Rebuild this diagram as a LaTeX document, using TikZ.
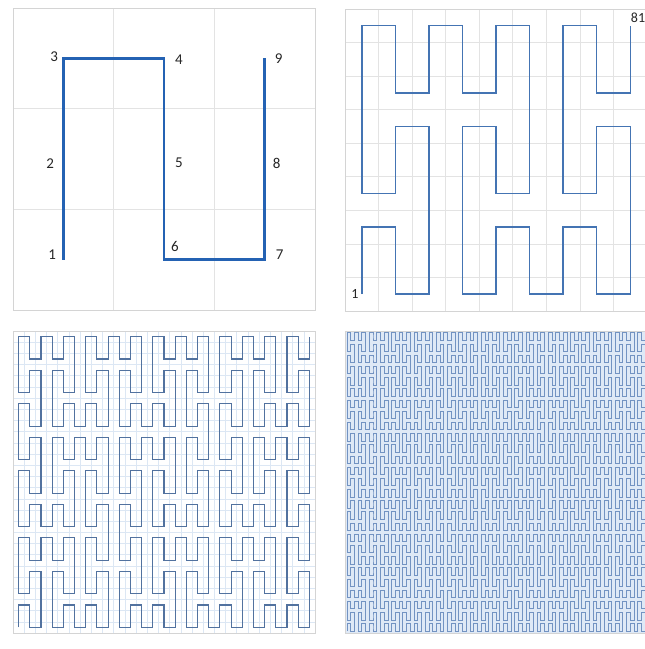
\documentclass[tikz,border=0pt]{standalone}
\usepackage{fontspec}
\setmainfont{Carlito}
\definecolor{frame}{HTML}{D4D4D4}
\definecolor{gridc}{HTML}{E3E3E3}
\definecolor{gridb}{HTML}{DCE7F4}
\definecolor{curve1}{HTML}{2462B3}
\definecolor{curve2}{HTML}{4474B3}
\definecolor{curve3}{HTML}{52729F}
\definecolor{curve4}{HTML}{7393C2}
\definecolor{paleb}{HTML}{DFE9F6}
\usetikzlibrary{calc,positioning}

% unit moves of the curve
\def\mvU{-- ++(0,1)}
\def\mvD{-- ++(0,-1)}
\def\mvR{-- ++(1,0)}
\def\mvL{-- ++(-1,0)}
% four mirror images: A plain, B mirrored in x, C mirrored in y, D both
\def\pA{}\def\pB{}\def\pC{}\def\pD{}
\def\peanostep{%
  \edef\nA{\pA\mvU\pB\mvU\pA\mvR\pC\mvD\pD\mvD\pC\mvR\pA\mvU\pB\mvU\pA}%
  \edef\nB{\pB\mvU\pA\mvU\pB\mvL\pD\mvD\pC\mvD\pD\mvL\pB\mvU\pA\mvU\pB}%
  \edef\nC{\pC\mvD\pD\mvD\pC\mvR\pA\mvU\pB\mvU\pA\mvR\pC\mvD\pD\mvD\pC}%
  \edef\nD{\pD\mvD\pC\mvD\pD\mvL\pB\mvU\pA\mvU\pB\mvL\pD\mvD\pC\mvD\pD}%
  \let\pA\nA\let\pB\nB\let\pC\nC\let\pD\nD}
\peanostep\let\peanoI\pA
\peanostep\let\peanoII\pA
\peanostep\let\peanoIII\pA
\peanostep\let\peanoIV\pA

\begin{document}
\begin{tikzpicture}[x=1pt, y=1pt,
  panel/.style={draw=frame, line width=0.9pt, fill=white},
  gridline/.style={draw=gridc, line width=0.7pt},
  fine/.style={draw=gridb, line width=0.5pt},
  num/.style={font=\fontsize{15}{18}\selectfont, text=black!85, inner sep=0pt},
  path1/.style={draw=curve1, line width=2.6pt},
  path2/.style={draw=curve2, line width=1.5pt},
  path3/.style={draw=curve3, line width=1.1pt},
  path4/.style={draw=curve4, line width=0.7pt},
]
\useasboundingbox[fill=white] (0,0) rectangle (645,649);

% order 1
\draw[panel] (13,339) rectangle (315,641);
\draw[gridline, shift={(13,339)}] (0,0) grid[step=100.667] (302,302);
\draw[frame, line width=0.9pt] (13,339) rectangle (315,641);
\coordinate (p1) at (63.3,389.3);
\coordinate (p2) at (63.3,490);
\coordinate (p3) at (63.3,590.7);
\coordinate (p4) at (164,590.7);
\coordinate (p5) at (164,490);
\coordinate (p6) at (164,389.3);
\coordinate (p7) at (264.7,389.3);
\coordinate (p8) at (264.7,490);
\coordinate (p9) at (264.7,590.7);
\draw[path1] (p1) -- (p3) -- (p4) -- (p6) -- (p7) -- (p9);
\node[num] (n1) at ($(p1)+(-11,5)$) {1};
\node[num] (n2) at ($(p2)+(-13,-5)$) {2};
\node[num] (n3) at ($(p3)+(-9,2)$) {3};
\node[num] (n4) at ($(p4)+(15,-1)$) {4};
\node[num] (n5) at ($(p5)+(15,-4)$) {5};
\node[num] (n6) at ($(p6)+(11,13)$) {6};
\node[num] (n7) at ($(p7)+(15,5)$) {7};
\node[num] (n8) at ($(p8)+(12,-4)$) {8};
\node[num] (n9) at ($(p9)+(14,0)$) {9};

% order 2
\draw[panel] (345,338) rectangle (647,640);
\draw[gridline, shift={(345,338)}] (0,0) grid[step=33.556] (302,302);
\draw[frame, line width=0.9pt] (345,338) rectangle (647,640);
\coordinate (s2) at (361.8,354.8);
\draw[path2, x=33.556pt, y=33.556pt] (s2) \peanoII;
\node[num, font=\fontsize{14}{16}\selectfont] (a2) at ($(s2)+(-7,0)$) {1};
\node[num, font=\fontsize{14}{16}\selectfont] (b2) at (638,631) {81};

% order 3
\draw[panel] (13,16) rectangle (315,318);
\draw[fine, shift={(13,16)}] (0,0) grid[step=11.185] (302,302);
\draw[frame, line width=0.9pt] (13,16) rectangle (315,318);
\coordinate (s3) at (18.6,21.6);
\draw[path3, x=11.185pt, y=11.185pt] (s3) \peanoIII;

% order 4
\draw[panel, fill=paleb] (345,16) rectangle (647,318);
\coordinate (s4) at (346.9,17.9);
\draw[path4, x=3.7284pt, y=3.7284pt] (s4) \peanoIV;
\end{tikzpicture}
\end{document}
